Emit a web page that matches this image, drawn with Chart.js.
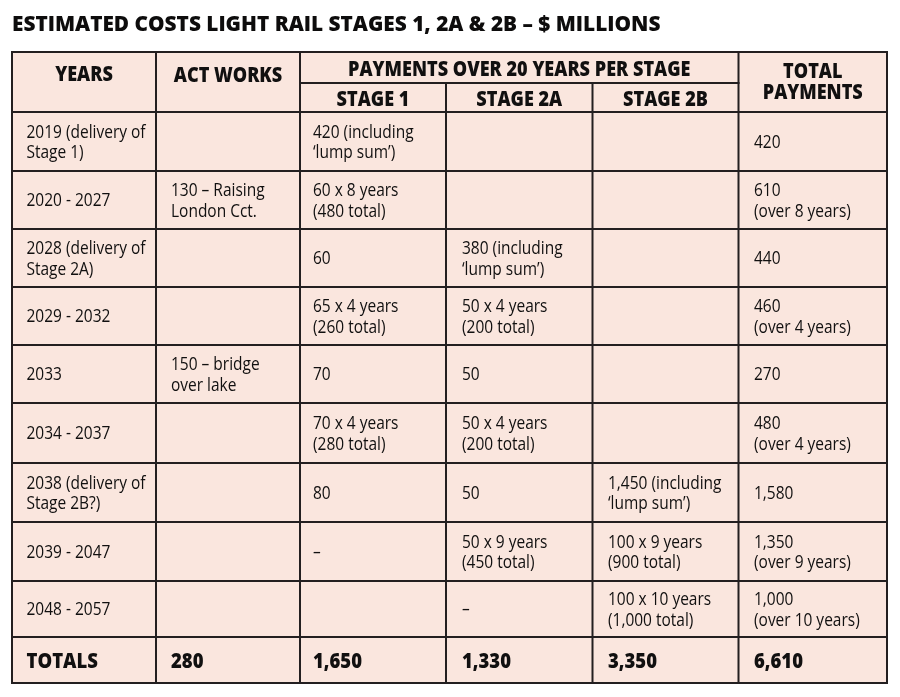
<!DOCTYPE html>
<html>
<head>
<meta charset="utf-8">
<title>Estimated costs light rail stages 1, 2A &amp; 2B</title>
<script src="https://cdn.jsdelivr.net/npm/chart.js@4.4.1/dist/chart.umd.min.js"></script>
<style>
  html, body { margin: 0; padding: 0; background: #ffffff; }
  #wrap { width: 900px; height: 697px; }
</style>
</head>
<body>
<div id="wrap"><canvas id="cost-table" width="900" height="697"></canvas></div>
<script>
var title = "ESTIMATED COSTS LIGHT RAIL STAGES 1, 2A & 2B – $ MILLIONS";
var headers = ["YEARS", "ACT WORKS", "TOTAL\nPAYMENTS"];
var groupHeader = "PAYMENTS OVER 20 YEARS PER STAGE";
var stageHeaders = ["STAGE 1", "STAGE 2A", "STAGE 2B"];

var years = ["2019 (delivery of\nStage 1)", "2020 - 2027", "2028 (delivery of\nStage 2A)", "2029 - 2032", "2033",
  "2034 - 2037", "2038 (delivery of\nStage 2B?)", "2039 - 2047", "2048 - 2057"];
var actWorks = ["", "130 – Raising\nLondon Cct.", "", "", "150 – bridge\nover lake", "", "", "", ""];
var stage1 = ["420 (including\n‘lump sum’)", "60 x 8 years\n(480 total)", "60", "65 x 4 years\n(260 total)", "70",
  "70 x 4 years\n(280 total)", "80", "–", ""];
var stage2A = ["", "", "380 (including\n‘lump sum’)", "50 x 4 years\n(200 total)", "50", "50 x 4 years\n(200 total)",
  "50", "50 x 9 years\n(450 total)", "–"];
var stage2B = ["", "", "", "", "", "", "1,450 (including\n‘lump sum’)", "100 x 9 years\n(900 total)",
  "100 x 10 years\n(1,000 total)"];
var totalPayments = ["420", "610\n(over 8 years)", "440", "460\n(over 4 years)", "270", "480\n(over 4 years)",
  "1,580", "1,350\n(over 9 years)", "1,000\n(over 10 years)"];
var totalsRow = ["TOTALS", "280", "1,650", "1,330", "3,350", "6,610"];

// table grid, in scale units (1 unit = 1 px)
var colEdges = [12, 156, 300, 446, 592.5, 738.5, 887];
var rowEdges = [112, 171, 229, 287, 345, 403, 463, 522, 581, 637, 683];
var headTop = 52, headMid = 83;
var padX = [14.5, 15, 13, 16, 15.5, 15.5];

var pink = "#fae6de";
var ink = "#111010";
var rule = "#231f20";

var bodyFont = { weight: "500", size: 18, lineHeight: 20.7, squeeze: 0.86 };
var headFont = { weight: "800", size: 21, lineHeight: 21.7, squeeze: 0.86 };
var totalFont = { weight: "800", size: 21, lineHeight: 21, squeeze: 0.88 };

function drawText(ctx, text, x, cy, font, align) {
  var lines = text.split("\n");
  var first = cy - (lines.length - 1) * font.lineHeight / 2;
  ctx.font = font.weight + " " + font.size + "px 'Open Sans'";
  ctx.fillStyle = ink;
  ctx.textAlign = align;
  ctx.textBaseline = "alphabetic";
  for (var i = 0; i < lines.length; i++) {
    ctx.save();
    ctx.translate(x, first + i * font.lineHeight + font.size * 0.36);
    ctx.scale(font.squeeze, 1);
    ctx.fillText(lines[i], 0, 0);
    ctx.restore();
  }
}

var tablePlugin = {
  id: "tableCells",
  afterDraw: function (chart) {
    var ctx = chart.ctx;
    var xs = chart.scales.x;
    var ys = chart.scales.y;
    var px = function (v) { return xs.getPixelForValue(v); };
    var py = function (v) { return ys.getPixelForValue(v); };
    var bottom = rowEdges[rowEdges.length - 1];

    // cell backgrounds
    ctx.save();
    ctx.fillStyle = pink;
    ctx.fillRect(px(colEdges[0]), py(headTop), px(colEdges[6]) - px(colEdges[0]), py(bottom) - py(headTop));
    ctx.restore();

    // text
    var columns = [years, actWorks, stage1, stage2A, stage2B, totalPayments];
    for (var r = 0; r < years.length; r++) {
      var cy = (py(rowEdges[r]) + py(rowEdges[r + 1])) / 2;
      for (var c = 0; c < columns.length; c++) {
        if (columns[c][r]) {
          drawText(ctx, columns[c][r], px(colEdges[c] + padX[c]), cy, bodyFont, "left");
        }
      }
    }
    var ty = (py(rowEdges[rowEdges.length - 2]) + py(bottom)) / 2 + 0.5;
    for (var t = 0; t < totalsRow.length; t++) {
      drawText(ctx, totalsRow[t], px(colEdges[t] + padX[t]), ty, totalFont, "left");
    }

    // headers
    drawText(ctx, headers[0], (px(colEdges[0]) + px(colEdges[1])) / 2, py(73), headFont, "center");
    drawText(ctx, headers[1], (px(colEdges[1]) + px(colEdges[2])) / 2, py(74), headFont, "center");
    drawText(ctx, headers[2], (px(colEdges[5]) + px(colEdges[6])) / 2, py(81), headFont, "center");
    drawText(ctx, groupHeader, (px(colEdges[2]) + px(colEdges[5])) / 2, py(68.5), headFont, "center");
    for (var s = 0; s < stageHeaders.length; s++) {
      drawText(ctx, stageHeaders[s], (px(colEdges[s + 2]) + px(colEdges[s + 3])) / 2, py(98.5), headFont, "center");
    }

    // rules
    ctx.save();
    ctx.strokeStyle = rule;
    ctx.lineWidth = 2;
    ctx.lineCap = "square";
    function line(x1, y1, x2, y2) {
      ctx.beginPath();
      ctx.moveTo(px(x1), py(y1));
      ctx.lineTo(px(x2), py(y2));
      ctx.stroke();
    }
    line(colEdges[0], headTop, colEdges[6], headTop);
    line(colEdges[2], headMid, colEdges[5], headMid);
    for (var i = 0; i < rowEdges.length; i++) {
      line(colEdges[0], rowEdges[i], colEdges[6], rowEdges[i]);
    }
    for (var j = 0; j < colEdges.length; j++) {
      var top = (j === 3 || j === 4) ? headMid : headTop;
      line(colEdges[j], top, colEdges[j], bottom);
    }
    ctx.restore();
  }
};

Chart.defaults.font.family = "'Open Sans'";
Chart.defaults.color = ink;

var tableChart = new Chart(document.getElementById("cost-table"), {
  type: "scatter",
  data: { datasets: [] },
  plugins: [tablePlugin],
  options: {
    responsive: false,
    animation: false,
    events: [],
    layout: { padding: { left: 12, right: 13, top: 0, bottom: 14 } },
    scales: {
      x: { type: "linear", min: 12, max: 887, display: false },
      y: { type: "linear", min: 52, max: 683, reverse: true, display: false }
    },
    plugins: {
      legend: { display: false },
      tooltip: { enabled: false },
      title: {
        display: true,
        text: title,
        align: "start",
        color: "#0d0c0c",
        font: { size: 20.8, weight: "800", lineHeight: 1.2 },
        padding: { top: 13, bottom: 14 }
      }
    }
  }
});
</script>
</body>
</html>
